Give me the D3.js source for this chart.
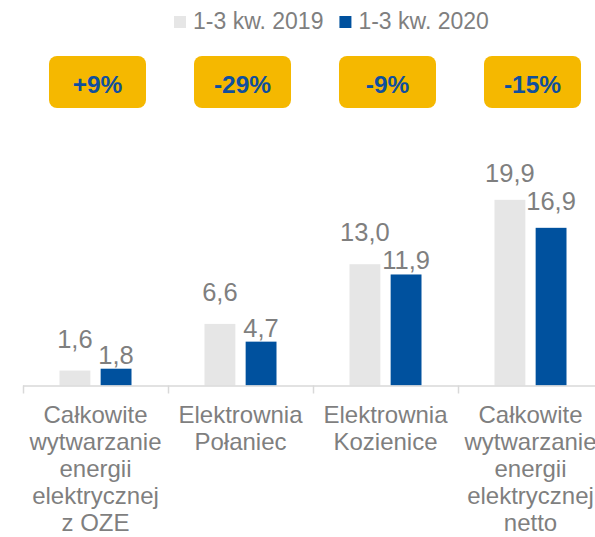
<!DOCTYPE html>
<html>
  <head>
    <meta charset="utf-8">
    <title>produkcja energii</title>
    <style>
      html, body {
        margin: 0;
        padding: 0;
        background: #fff;
      }
      svg {
        display: block;
        font-family: "Liberation Sans", Arial, sans-serif;
      }
    </style>
  </head>
<body>

<svg width="595" height="537"></svg>

<script src="https://cdn.jsdelivr.net/npm/d3@7"></script>
<script>

// categories, split into the lines shown under the axis
const categories = ["oze", "polaniec", "kozienice", "netto"];
const categoryLines = [
  ["Całkowite", "wytwarzanie", "energii", "elektrycznej", "z OZE"],
  ["Elektrownia", "Połaniec"],
  ["Elektrownia", "Kozienice"],
  ["Całkowite", "wytwarzanie", "energii", "elektrycznej", "netto"]
];

const seriesNames = ["1-3 kw. 2019", "1-3 kw. 2020"];
const values2019 = [1.6, 6.6, 13.0, 19.9];
const values2020 = [1.8, 4.7, 11.9, 16.9];
const changes = ["+9%", "-29%", "-9%", "-15%"];

const colors = ["#e6e6e6", "#00519e"];
const grey = "#7f7f7f";

const svg = d3.select("svg");
const fmt = v => d3.format(".1f")(v).replace(".", ",");

const x = d3.scaleBand()
    .domain(categories)
    .range([23, 603])
    .padding(0);

const groupWidth = 72;
const xSeries = d3.scaleBand()
    .domain(seriesNames)
    .range([0, groupWidth])
    .paddingInner(0.25);

const y = d3.scaleLinear()
    .domain([0, 20])
    .range([385.5, 198.9]);

const barX = (c, s) => x(c) + (x.bandwidth() - groupWidth) / 2 + xSeries(s);

const data = [];
categories.forEach((c, i) => {
  data.push({cat: c, series: seriesNames[0], value: values2019[i]});
  data.push({cat: c, series: seriesNames[1], value: values2020[i]});
});

// bars
svg.append("g")
   .selectAll("rect")
   .data(data)
   .enter()
   .append("rect")
   .attr("x", d => barX(d.cat, d.series))
   .attr("y", d => y(d.value))
   .attr("width", xSeries.bandwidth())
   .attr("height", d => y(0) - y(d.value))
   .style("fill", d => colors[seriesNames.indexOf(d.series)]);

// value labels, 18px above the bar; if the two labels of a group collide
// the 2019 one is lifted a bit and the 2020 one drops close to its bar
const labelSize = 25.5;
data.forEach(d => {
  d.lx = barX(d.cat, d.series) + xSeries.bandwidth() / 2;
  d.ly = y(d.value) - 18;
});
categories.forEach(c => {
  const [a, b] = data.filter(d => d.cat === c);
  const halfW = labelSize * 1.0;
  const overlapX = (a.lx + halfW) > (b.lx - halfW);
  const overlapY = (b.ly - labelSize * 0.72) < a.ly;
  if (overlapX && overlapY) {
    a.ly -= 5;
    b.ly = y(b.value) - 5;
  }
});

svg.append("g")
   .selectAll("text")
   .data(data)
   .enter()
   .append("text")
   .attr("x", d => d.lx)
   .attr("y", d => d.ly)
   .attr("text-anchor", "middle")
   .style("font-size", labelSize + "px")
   .style("fill", grey)
   .text(d => fmt(d.value));

// axis line and category separators
const axis = svg.append("g");
axis.append("line")
    .attr("x1", x(categories[0]))
    .attr("x2", 595)
    .attr("y1", y(0) + 0.5)
    .attr("y2", y(0) + 0.5)
    .style("stroke", "#d9d9d9")
    .style("stroke-width", 1.5);

axis.selectAll(".tick")
    .data(categories)
    .enter()
    .append("line")
    .attr("x1", d => x(d) + 0.5)
    .attr("x2", d => x(d) + 0.5)
    .attr("y1", y(0))
    .attr("y2", y(0) + 8)
    .style("stroke", "#d9d9d9")
    .style("stroke-width", 1.5);

// category labels
const catText = svg.append("g")
   .selectAll("text")
   .data(categories)
   .enter()
   .append("text")
   .attr("text-anchor", "middle")
   .style("font-size", "24px")
   .style("fill", grey);

catText.selectAll("tspan")
   .data((d, i) => categoryLines[i].map(t => ({t: t, cat: d})))
   .enter()
   .append("tspan")
   .attr("x", d => x(d.cat) + x.bandwidth() / 2)
   .attr("y", (d, j) => 423 + j * 27)
   .text(d => d.t);

// change badges
const badges = svg.append("g")
   .selectAll("g")
   .data(categories)
   .enter()
   .append("g")
   .attr("transform", d => "translate(" + (x(d) + x.bandwidth() / 2 + 2) + ",82)");

badges.append("rect")
   .attr("x", -48.5)
   .attr("y", -26)
   .attr("width", 97)
   .attr("height", 52)
   .attr("rx", 8)
   .style("fill", "#f5b800");

badges.append("text")
   .attr("y", 11)
   .attr("text-anchor", "middle")
   .style("font-size", "24.5px")
   .style("font-weight", "bold")
   .style("fill", "#0f4f9e")
   .text((d, i) => changes[i]);

// legend
const legend = svg.append("g");
let lx = 174;
seriesNames.forEach((s, i) => {
  legend.append("rect")
        .attr("x", lx)
        .attr("y", 16)
        .attr("width", 12)
        .attr("height", 12)
        .style("fill", colors[i]);
  const t = legend.append("text")
        .attr("x", lx + 19)
        .attr("y", 29)
        .style("font-size", "23px")
        .style("fill", grey)
        .text(s);
  lx += 19 + t.node().getComputedTextLength() + 16;
});

</script>

</body>
</html>
